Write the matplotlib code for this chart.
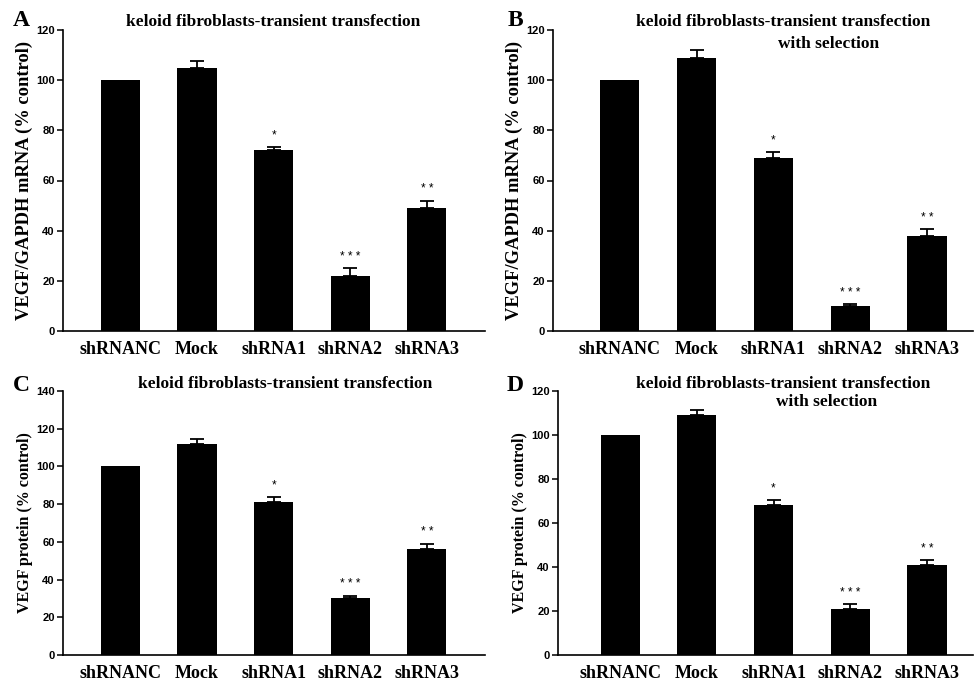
import matplotlib
matplotlib.use('Agg')
import matplotlib.pyplot as plt

categories = ['shRNANC', 'Mock', 'shRNA1', 'shRNA2', 'shRNA3']
stars = ['', '', '*', '* * *', '* *']

mrna_transient = [100, 105, 72, 22, 49]
mrna_transient_err = [0, 2.5, 1.5, 3, 3]
mrna_selection = [100, 109, 69, 10, 38]
mrna_selection_err = [0, 3, 2.5, 0.7, 2.5]
protein_transient = [100, 112, 81, 30, 56]
protein_transient_err = [0, 2.5, 3, 1.5, 3]
protein_selection = [100, 109, 68, 21, 41]
protein_selection_err = [0, 2.5, 2.5, 2, 2]

SERIF = 'Liberation Serif'
SANS = 'Liberation Sans'

W, H = 975, 682
fig = plt.figure(figsize=(W / 100, H / 100), dpi=100)


def px_axes(x0, x1, y_top, y_bot):
    return fig.add_axes([x0 / W, 1 - y_bot / H, (x1 - x0) / W, (y_bot - y_top) / H])


def draw_panel(ax, values, errs, ymax, ystep, ylabel, xlim, title_lines):
    x = list(range(len(categories)))
    ax.bar(x, values, width=0.51, color='black')
    # only bars with a measured spread get an upper error bar
    ex = [xi for xi, e in zip(x, errs) if e > 0]
    ev = [v for v, e in zip(values, errs) if e > 0]
    ee = [e for e in errs if e > 0]
    ax.errorbar(ex, ev, yerr=[[0] * len(ee), ee], fmt='none', ecolor='black',
                elinewidth=1.3, capsize=5, capthick=1.3)
    for xi, v, e, s in zip(x, values, errs, stars):
        if s:
            ax.annotate(s, (xi, v + e), xytext=(0, 4), textcoords='offset points',
                        ha='center', va='bottom', fontsize=8.5, family=SANS)
    ax.set_xlim(*xlim)
    ax.set_ylim(0, ymax)
    ax.set_yticks(range(0, ymax + 1, ystep))
    ax.set_xticks(x)
    ax.set_xticklabels(categories, family=SERIF, fontweight='bold', fontsize=13)
    ax.tick_params(axis='x', length=0, pad=7)
    ax.tick_params(axis='y', length=4, width=1.1, pad=2, direction='out')
    for lbl in ax.get_yticklabels():
        lbl.set_family(SANS)
        lbl.set_fontweight('bold')
        lbl.set_fontsize(8)
    for side in ['top', 'right']:
        ax.spines[side].set_visible(False)
    for side in ['left', 'bottom']:
        ax.spines[side].set_linewidth(1.2)
    ax.set_ylabel(ylabel[0], family=SERIF, fontweight='bold', fontsize=ylabel[1], labelpad=2)
    for tx, ty, t in title_lines:
        ax.text(tx, ty, t, transform=ax.transAxes, ha='center', va='center',
                family=SERIF, fontweight='bold', fontsize=12.5)


ax_a = px_axes(63, 485, 30, 331)
draw_panel(ax_a, mrna_transient, mrna_transient_err, 120, 20,
           ('VEGF/GAPDH mRNA (% control)', 13.3), (-0.75, 4.76),
           [(0.498, 1.025, 'keloid fibroblasts-transient transfection')])

ax_b = px_axes(553, 973, 30, 331)
draw_panel(ax_b, mrna_selection, mrna_selection_err, 120, 20,
           ('VEGF/GAPDH mRNA (% control)', 13.3), (-0.87, 4.6),
           [(0.548, 1.025, 'keloid fibroblasts-transient transfection'),
            (0.655, 0.953, 'with selection')])

ax_c = px_axes(63, 485, 391, 655)
draw_panel(ax_c, protein_transient, protein_transient_err, 140, 20,
           ('VEGF protein (% control)', 11.5), (-0.75, 4.76),
           [(0.526, 1.025, 'keloid fibroblasts-transient transfection')])

ax_d = px_axes(558, 973, 391, 655)
draw_panel(ax_d, protein_selection, protein_selection_err, 120, 20,
           ('VEGF protein (% control)', 11.5), (-0.81, 4.6),
           [(0.542, 1.025, 'keloid fibroblasts-transient transfection'),
            (0.648, 0.958, 'with selection')])

# panel letters
for letter, lx, ly in [('A', 21, 21), ('B', 515, 20), ('C', 21, 385), ('D', 515, 385)]:
    fig.text(lx / W, 1 - ly / H, letter, ha='center', va='center',
             family=SERIF, fontweight='bold', fontsize=17)

fig.savefig('out.png', dpi=100)
